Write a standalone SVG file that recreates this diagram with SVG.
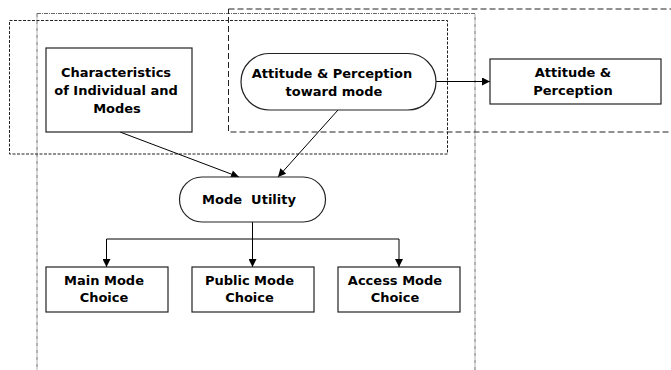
<svg xmlns="http://www.w3.org/2000/svg" width="671" height="370" viewBox="0 0 671 370">
<defs>
<marker id="ah" viewBox="0 0 10 10" refX="10" refY="5" markerWidth="10" markerHeight="8" markerUnits="userSpaceOnUse" orient="auto">
<path d="M0,0 L10,5 L0,10 Z" fill="#000"/>
</marker>
</defs>
<style>
.t{font-family:"DejaVu Sans",Verdana,sans-serif;font-weight:bold;font-size:13px;fill:#000;text-anchor:middle}
.n{fill:#fff;stroke:#222;stroke-width:1.2}
.c{fill:none;stroke:#000;stroke-width:1}
</style>
<rect width="671" height="370" fill="#fff"/>
<g id="regions" fill="none">
<rect x="37" y="13.5" width="438" height="362" stroke="#666" stroke-dasharray="4 1 1 1"/>
<rect x="9.5" y="20.5" width="438" height="133.5" stroke="#222" stroke-dasharray="3 1.5"/>
<rect x="228.5" y="9" width="460" height="123" stroke="#222" stroke-dasharray="6 3"/>
</g>
<g id="connectors">
<line class="c" x1="120" y1="132" x2="239" y2="177" marker-end="url(#ah)"/>
<line class="c" x1="338" y1="110" x2="278" y2="177" marker-end="url(#ah)"/>
<line class="c" x1="436" y1="81.5" x2="490" y2="81.5" marker-end="url(#ah)"/>
<polyline class="c" points="252.5,222 252.5,239"/>
<line class="c" x1="106.5" y1="239" x2="399" y2="239"/>
<line class="c" x1="106.5" y1="239" x2="106.5" y2="267" marker-end="url(#ah)"/>
<line class="c" x1="252.5" y1="239" x2="252.5" y2="267" marker-end="url(#ah)"/>
<line class="c" x1="399" y1="239" x2="399" y2="267" marker-end="url(#ah)"/>
</g>
<g id="characteristics">
<rect class="n" x="46" y="48" width="146" height="84"/>
<text class="t" x="116" y="77">Characteristics</text>
<text class="t" x="116" y="95">of Individual and</text>
<text class="t" x="117" y="113">Modes</text>
</g>
<g id="attitude-toward-mode">
<rect class="n" x="241" y="53.5" width="195" height="56.5" rx="28.25"/>
<text class="t" x="332" y="78">Attitude &amp; Perception</text>
<text class="t" x="334" y="96">toward mode</text>
</g>
<g id="attitude-perception">
<rect class="n" x="490" y="59" width="171" height="45"/>
<text class="t" x="573" y="77">Attitude &amp;</text>
<text class="t" x="573" y="95">Perception</text>
</g>
<g id="mode-utility">
<rect class="n" x="179.5" y="177" width="146" height="45" rx="22.5"/>
<text class="t" x="249" y="204" xml:space="preserve">Mode  Utility</text>
</g>
<g id="main-mode">
<rect class="n" x="46" y="267" width="122" height="45"/>
<text class="t" x="104" y="285">Main Mode</text>
<text class="t" x="104" y="302">Choice</text>
</g>
<g id="public-mode">
<rect class="n" x="192" y="267" width="122" height="45"/>
<text class="t" x="249.5" y="285">Public Mode</text>
<text class="t" x="249.5" y="302">Choice</text>
</g>
<g id="access-mode">
<rect class="n" x="338" y="267" width="122" height="45"/>
<text class="t" x="395" y="285">Access Mode</text>
<text class="t" x="395" y="302">Choice</text>
</g>
</svg>
